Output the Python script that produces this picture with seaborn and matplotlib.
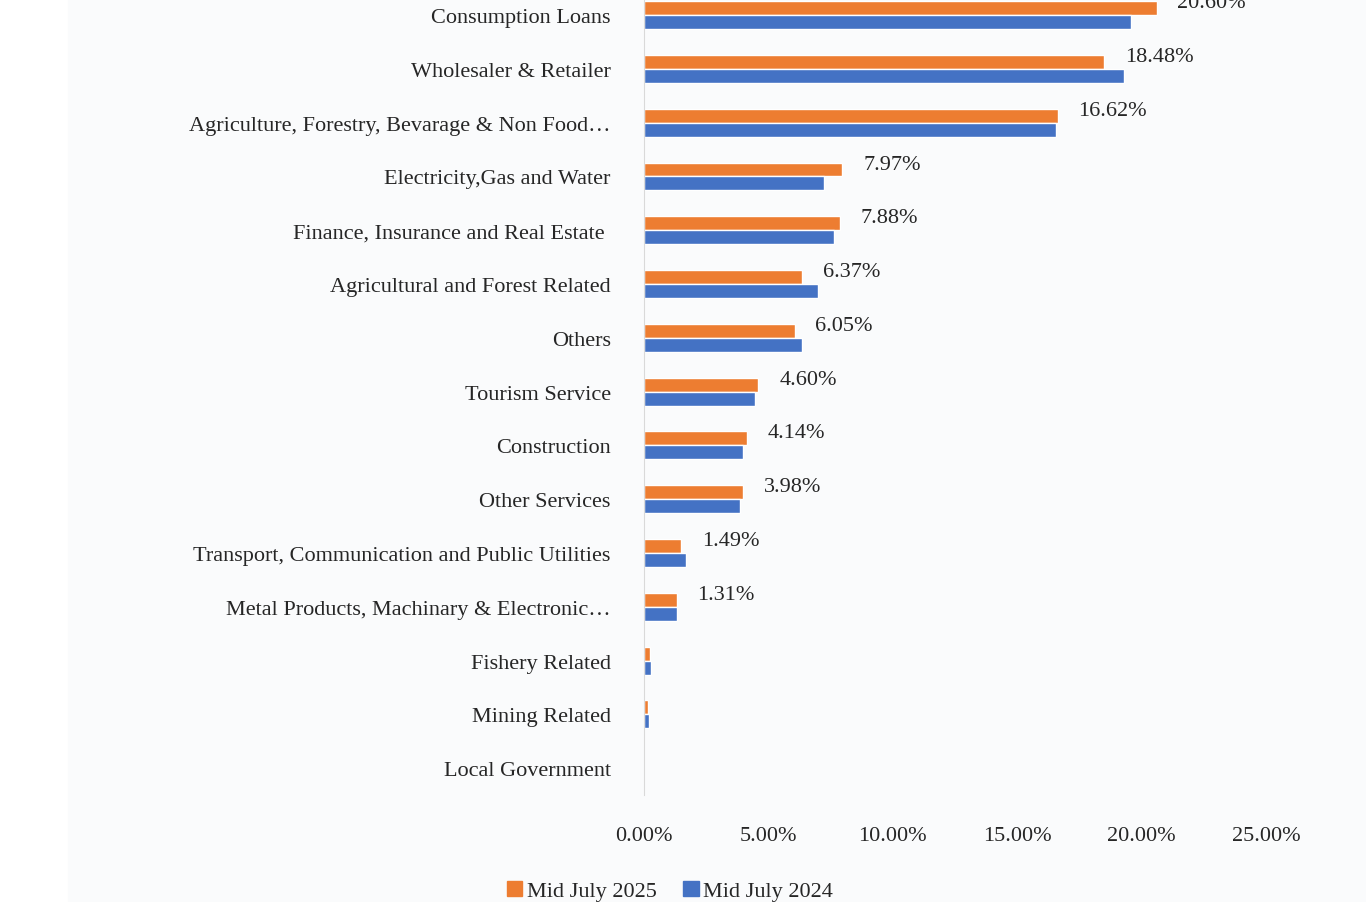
import matplotlib
matplotlib.use("Agg")
import matplotlib.pyplot as plt
import matplotlib.patches as mpatches
import seaborn as sns
import pandas as pd

sectors = ["Consumption Loans", "Wholesaler & Retailer",
           "Agriculture, Forestry, Bevarage & Non Food\u2026",
           "Electricity,Gas and Water", "Finance, Insurance and Real Estate ",
           "Agricultural and Forest Related", "Others", "Tourism Service",
           "Construction", "Other Services",
           "Transport, Communication and Public Utilities",
           "Metal Products, Machinary & Electronic\u2026",
           "Fishery Related", "Mining Related", "Local Government"]
july_2025 = [20.60, 18.48, 16.62, 7.97, 7.88, 6.37, 6.05, 4.60, 4.14, 3.98, 1.49, 1.31, 0.24, 0.16, 0.01]
july_2024 = [19.56, 19.28, 16.55, 7.23, 7.63, 6.99, 6.35, 4.46, 3.98, 3.86, 1.69, 1.33, 0.28, 0.20, 0.01]
labelled = 12  # only the first 12 have data labels

df = pd.DataFrame({
    "Sector": sectors * 2,
    "Share": july_2025 + july_2024,
    "Period": ["Mid July 2025"] * len(sectors) + ["Mid July 2024"] * len(sectors),
})

sns.set_style("white")
plt.rcParams["font.family"] = ["Liberation Serif", "DejaVu Serif"]

fig = plt.figure(figsize=(13.66, 9.03), dpi=100)
fig.patches.append(mpatches.Rectangle((68 / 1366, 0), 1, 1, transform=fig.transFigure,
                                      color="#fafbfc", zorder=-10))
ax = fig.add_axes([644 / 1366, 1 - 796 / 903, (1266 - 644) / 1366, 796 / 903])
ax.set_facecolor("none")

colors = {"Mid July 2025": "#ed7d31", "Mid July 2024": "#4472c4"}
sns.barplot(data=df, y="Sector", x="Share", hue="Period", order=sectors,
            hue_order=["Mid July 2025", "Mid July 2024"], palette=colors,
            width=0.52, orient="h", ax=ax, legend=False, saturation=1)

for i in range(labelled):
    ax.annotate(f"{july_2025[i]:.2f}%", (july_2025[i], i - 0.18), xytext=(15, 2),
                textcoords="offset points", fontsize=16, va="center", ha="left")

ax.set_xlim(0, 25)
ax.set_ylim(14.5, -0.3)
ax.set_xticks([0, 5, 10, 15, 20, 25])
ax.set_xticklabels([f"{v:.2f}%" for v in [0, 5, 10, 15, 20, 25]], fontsize=16)
ax.tick_params(axis="y", labelsize=16, length=0, pad=24)
ax.tick_params(axis="x", length=0, pad=22)
ax.set_xlabel("")
ax.set_ylabel("")
for s in ["top", "right", "bottom"]:
    ax.spines[s].set_visible(False)
ax.spines["left"].set_color("#d9d9d9")

handles = [mpatches.Patch(color=c, label=k) for k, c in colors.items()]
fig.legend(handles=handles, loc="center", bbox_to_anchor=(670 / 1366, 1 - 892 / 903),
           ncol=2, frameon=False, fontsize=16, handlelength=0.7, handleheight=0.7,
           handletextpad=0.2, columnspacing=1.2)

fig.savefig("out.png", dpi=100)
